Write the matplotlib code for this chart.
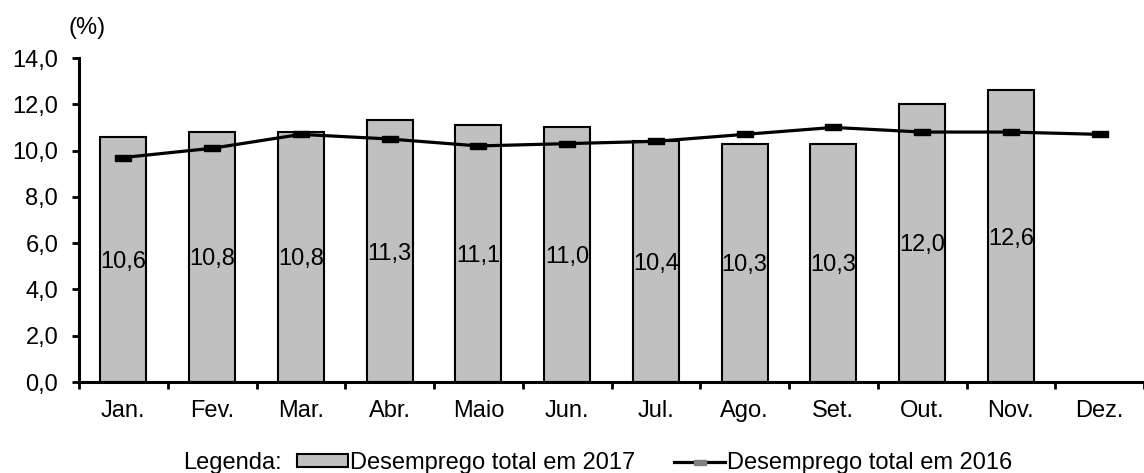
import numpy as np
import matplotlib.pyplot as plt
from matplotlib.patches import Patch
from matplotlib.lines import Line2D

plt.rcParams['font.family'] = ['Liberation Sans', 'DejaVu Sans']
FS = 17

meses = ['Jan.', 'Fev.', 'Mar.', 'Abr.', 'Maio', 'Jun.', 'Jul.', 'Ago.', 'Set.', 'Out.', 'Nov.', 'Dez.']
desemp_2017 = [10.6, 10.8, 10.8, 11.3, 11.1, 11.0, 10.4, 10.3, 10.3, 12.0, 12.6]
desemp_2016 = [9.7, 10.1, 10.7, 10.5, 10.2, 10.3, 10.4, 10.7, 11.0, 10.8, 10.8, 10.7]

fig = plt.figure(figsize=(11.44, 4.73), dpi=100)
ax = fig.add_axes([79 / 1144, 1 - 382 / 473, 1065 / 1144, 324 / 473])

x = np.arange(len(meses))
x17 = x[:len(desemp_2017)]
ax.bar(x17, desemp_2017, width=0.52, color='#c0c0c0', edgecolor='black', linewidth=1.5, zorder=2)

# traço horizontal como marcador
dash = [(-1, -0.45), (1, -0.45), (1, 0.45), (-1, 0.45), (-1, -0.45)]
ax.plot(x, desemp_2016, color='black', linewidth=2.3, marker=dash, markersize=11,
        markerfacecolor='black', markeredgecolor='black', zorder=3)

for xi, v in zip(x17, desemp_2017):
    ax.text(xi, v / 2 - 0.1, f'{v:.1f}'.replace('.', ','), ha='center', va='center', fontsize=FS)

ax.set_xlim(-0.5, len(meses) - 0.5)
ax.set_ylim(0, 14)
yt = np.arange(0, 14.1, 2)
ax.set_yticks(yt)
ax.set_yticklabels([f'{v:.1f}'.replace('.', ',') for v in yt], fontsize=FS)
ax.set_xticks(x)
ax.set_xticklabels(meses, fontsize=FS)
ax.tick_params(axis='x', length=0, pad=13)
ax.set_xticks(np.arange(-0.5, len(meses) + 0.5, 1), minor=True)
ax.tick_params(axis='x', which='minor', length=5, width=2, direction='out')
ax.tick_params(axis='y', length=5, width=2, direction='out', pad=10)

for s in ['top', 'right']:
    ax.spines[s].set_visible(False)
for s in ['left', 'bottom']:
    ax.spines[s].set_linewidth(2.2)

fig.text(68 / 1144, 1 - 28 / 473, '(%)', fontsize=FS, va='center')

# legenda
ly = 1 - 463 / 473
fig.text(183 / 1144, ly, 'Legenda:', fontsize=FS, va='center')
handles = [Patch(facecolor='#c0c0c0', edgecolor='black', linewidth=1.5),
           Line2D([0], [0], color='black', linewidth=2.3, marker=dash, markersize=8,
                  markerfacecolor='#808080', markeredgecolor='#808080')]
fig.legend(handles, ['Desemprego total em 2017', 'Desemprego total em 2016'],
           loc='center left', bbox_to_anchor=(297 / 1144, ly), ncol=2, frameon=False,
           fontsize=FS, handlelength=2.15, handleheight=0.47, handletextpad=0.1, columnspacing=1.65,
           borderaxespad=0, borderpad=0)

fig.savefig('out.png', dpi=100)
